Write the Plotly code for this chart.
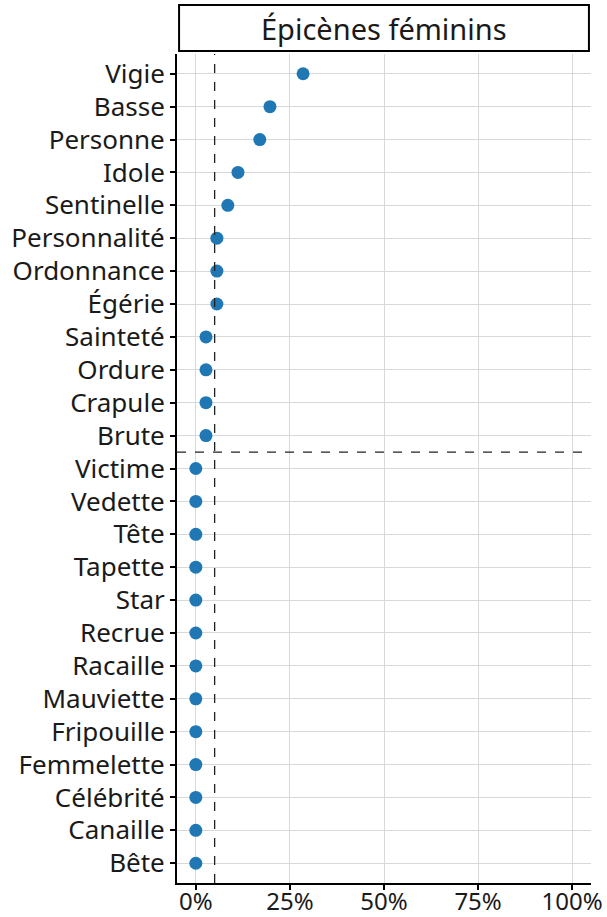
import plotly.graph_objects as go

# Words, top to bottom as shown in the chart
mots = ["Vigie", "Basse", "Personne", "Idole", "Sentinelle", "Personnalité",
        "Ordonnance", "Égérie", "Sainteté", "Ordure", "Crapule", "Brute",
        "Victime", "Vedette", "Tête", "Tapette", "Star", "Recrue", "Racaille",
        "Mauviette", "Fripouille", "Femmelette", "Célébrité", "Canaille", "Bête"]
# share (%) for each word
parts = [28.5, 19.7, 17.0, 11.2, 8.5, 5.6, 5.6, 5.6, 2.7, 2.7, 2.7, 2.7,
         0, 0, 0, 0, 0, 0, 0, 0, 0, 0, 0, 0, 0]
seuil = 5  # threshold line (%)

order = mots[::-1]  # bottom to top
n_above = 12

fig = go.Figure()
fig.add_trace(go.Scatter(
    x=parts, y=mots, mode="markers",
    marker=dict(color="#1f77b4", size=13),
    hoverinfo="x+y", showlegend=False,
))

fig.add_shape(type="line", xref="x", yref="paper", x0=seuil, x1=seuil, y0=0, y1=1,
              line=dict(color="#222", width=1.3, dash="dash"))
fig.add_shape(type="line", xref="paper", yref="y",
              x0=0, x1=1, y0=len(mots) - n_above - 0.5, y1=len(mots) - n_above - 0.5,
              line=dict(color="#222", width=1.3, dash="dash"))

# facet strip
fig.add_shape(type="rect", xref="paper", yref="paper", x0=0.005, x1=0.995,
              y0=1.0035, y1=1.059, line=dict(color="black", width=2), fillcolor="white")
fig.add_annotation(text="Épicènes féminins", xref="paper", yref="paper", x=0.5, y=1.031,
                   showarrow=False, font=dict(size=29, color="#1a1a1a"), yanchor="middle")

fig.update_xaxes(range=[-5, 105], tickvals=[0, 25, 50, 75, 100],
                 ticktext=["0%", "25%", "50%", "75%", "100%"],
                 showgrid=True, gridcolor="#d9d9d9", gridwidth=1,
                 showline=True, linecolor="black", linewidth=2,
                 ticks="outside", ticklen=5, tickcolor="black", tickwidth=2,
                 tickfont=dict(size=24, color="#1a1a1a"), zeroline=False,
                 ticklabelstandoff=-9, automargin=False)
fig.update_yaxes(type="category", categoryorder="array", categoryarray=order,
                 range=[-0.6, len(mots) - 0.4],
                 showgrid=True, gridcolor="#d9d9d9", gridwidth=1,
                 showline=True, linecolor="black", linewidth=2,
                 ticks="outside", ticklen=5, tickcolor="black", tickwidth=2,
                 tickfont=dict(size=26, color="#1a1a1a"), automargin=False)

fig.update_layout(
    width=607, height=917,
    margin=dict(l=177, r=16, t=54, b=34),
    plot_bgcolor="white", paper_bgcolor="white",
    font=dict(family="Noto Sans, Open Sans, sans-serif"),
)

# drop the default page margin so the figure sits at the window's corner
fig.write_html("out.html", config={"displayModeBar": False},
               post_script="document.body.style.margin='0';")
